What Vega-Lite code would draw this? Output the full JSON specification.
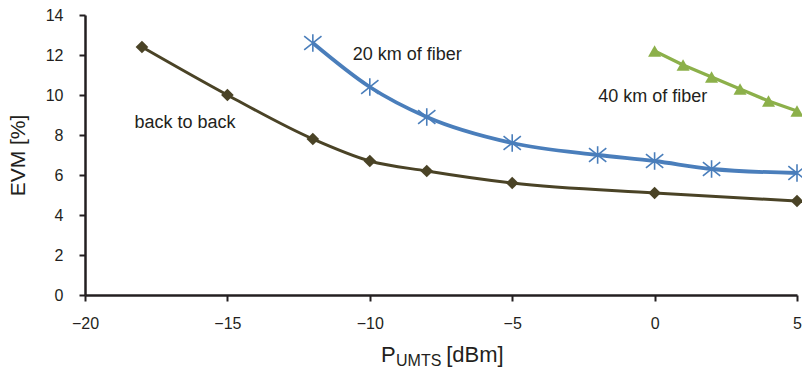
{
  "$schema": "https://vega.github.io/schema/vega-lite/v6.json",
  "width": 712,
  "height": 280,
  "autosize": {"type": "none"},
  "padding": {"left": 85, "top": 15, "right": 5, "bottom": 74},
  "background": "white",
  "config": {
    "view": {"stroke": null},
    "font": "Liberation Sans",
    "axis": {
      "domainColor": "#231f20", "domainWidth": 2.5, "tickColor": "#231f20", "tickWidth": 2, "tickSize": 6,
      "labelFont": "Liberation Sans", "labelFontSize": 16, "labelColor": "#231f20",
      "titleFont": "Liberation Sans", "titleFontWeight": "normal", "titleColor": "#231f20", "grid": false
    }
  },
  "datasets": {
    "evm": [
      {"series": "back to back", "p": -18, "evm": 12.4},
      {"series": "back to back", "p": -15, "evm": 10.0},
      {"series": "back to back", "p": -12, "evm": 7.8},
      {"series": "back to back", "p": -10, "evm": 6.7},
      {"series": "back to back", "p": -8, "evm": 6.2},
      {"series": "back to back", "p": -5, "evm": 5.6},
      {"series": "back to back", "p": 0, "evm": 5.1},
      {"series": "back to back", "p": 5, "evm": 4.7},
      {"series": "20 km of fiber", "p": -12, "evm": 12.6},
      {"series": "20 km of fiber", "p": -10, "evm": 10.4},
      {"series": "20 km of fiber", "p": -8, "evm": 8.9},
      {"series": "20 km of fiber", "p": -5, "evm": 7.6},
      {"series": "20 km of fiber", "p": -2, "evm": 7.0},
      {"series": "20 km of fiber", "p": 0, "evm": 6.7},
      {"series": "20 km of fiber", "p": 2, "evm": 6.3},
      {"series": "20 km of fiber", "p": 5, "evm": 6.1},
      {"series": "40 km of fiber", "p": 0, "evm": 12.2},
      {"series": "40 km of fiber", "p": 1, "evm": 11.5},
      {"series": "40 km of fiber", "p": 2, "evm": 10.9},
      {"series": "40 km of fiber", "p": 3, "evm": 10.3},
      {"series": "40 km of fiber", "p": 4, "evm": 9.7},
      {"series": "40 km of fiber", "p": 5, "evm": 9.2}
    ],
    "labels": [
      {"p": -18.26, "evm": 8.6, "label": "back to back"},
      {"p": -10.6, "evm": 12.0, "label": "20 km of fiber"},
      {"p": -1.98, "evm": 9.9, "label": "40 km of fiber"}
    ],
    "xtitle": [
      {"p": -9.61, "evm": -3.35, "t": "P", "size": 22},
      {"p": -9.08, "evm": -3.55, "t": "UMTS", "size": 16},
      {"p": -7.32, "evm": -3.35, "t": "[dBm]", "size": 22}
    ]
  },
  "encoding": {
    "x": {"field": "p", "type": "quantitative", "scale": {"domain": [-20, 5], "nice": false, "zero": false},
      "axis": {"values": [-20, -15, -10, -5, 0, 5], "title": null, "labelPadding": 14, "labelFlush": false}},
    "y": {"field": "evm", "type": "quantitative", "scale": {"domain": [0, 14], "nice": false},
      "axis": {"values": [0, 2, 4, 6, 8, 10, 12, 14], "title": "EVM [%]", "titleFontSize": 21, "labelPadding": 16, "titlePadding": 17}}
  },
  "layer": [
    {"data": {"name": "evm"}, "transform": [{"filter": "datum.series === 'back to back'"}],
      "mark": {"type": "line", "interpolate": "monotone", "color": "#4a4326", "strokeWidth": 3}},
    {"data": {"name": "evm"}, "transform": [{"filter": "datum.series === '20 km of fiber'"}],
      "mark": {"type": "line", "interpolate": "monotone", "color": "#4a7ebb", "strokeWidth": 3.8}},
    {"data": {"name": "evm"}, "transform": [{"filter": "datum.series === '40 km of fiber'"}],
      "mark": {"type": "line", "interpolate": "linear", "color": "#8cb04a", "strokeWidth": 3.3}},
    {"data": {"name": "evm"}, "transform": [{"filter": "datum.series === 'back to back'"}],
      "mark": {"type": "point", "shape": "diamond", "filled": true, "color": "#4a4326", "size": 160, "opacity": 1}},
    {"data": {"name": "evm"}, "transform": [{"filter": "datum.series === '20 km of fiber'"}],
      "mark": {"type": "point", "shape": "M0,-1L0,1M-1,-0.8L1,0.8M-1,0.8L1,-0.8", "filled": false, "color": "#4a7ebb", "strokeWidth": 1.6, "size": 300, "opacity": 1}},
    {"data": {"name": "evm"}, "transform": [{"filter": "datum.series === '40 km of fiber'"}],
      "mark": {"type": "point", "shape": "triangle-up", "filled": true, "color": "#8cb04a", "size": 170, "opacity": 1}},
    {"data": {"name": "labels"},
      "mark": {"type": "text", "align": "left", "baseline": "middle", "fontSize": 18, "color": "#231f20"},
      "encoding": {"text": {"field": "label"}}},
    {"data": {"name": "xtitle"},
      "mark": {"type": "text", "align": "left", "baseline": "alphabetic", "color": "#231f20", "clip": false},
      "encoding": {"text": {"field": "t"}, "size": {"field": "size", "type": "quantitative", "scale": null}}}
  ]
}
